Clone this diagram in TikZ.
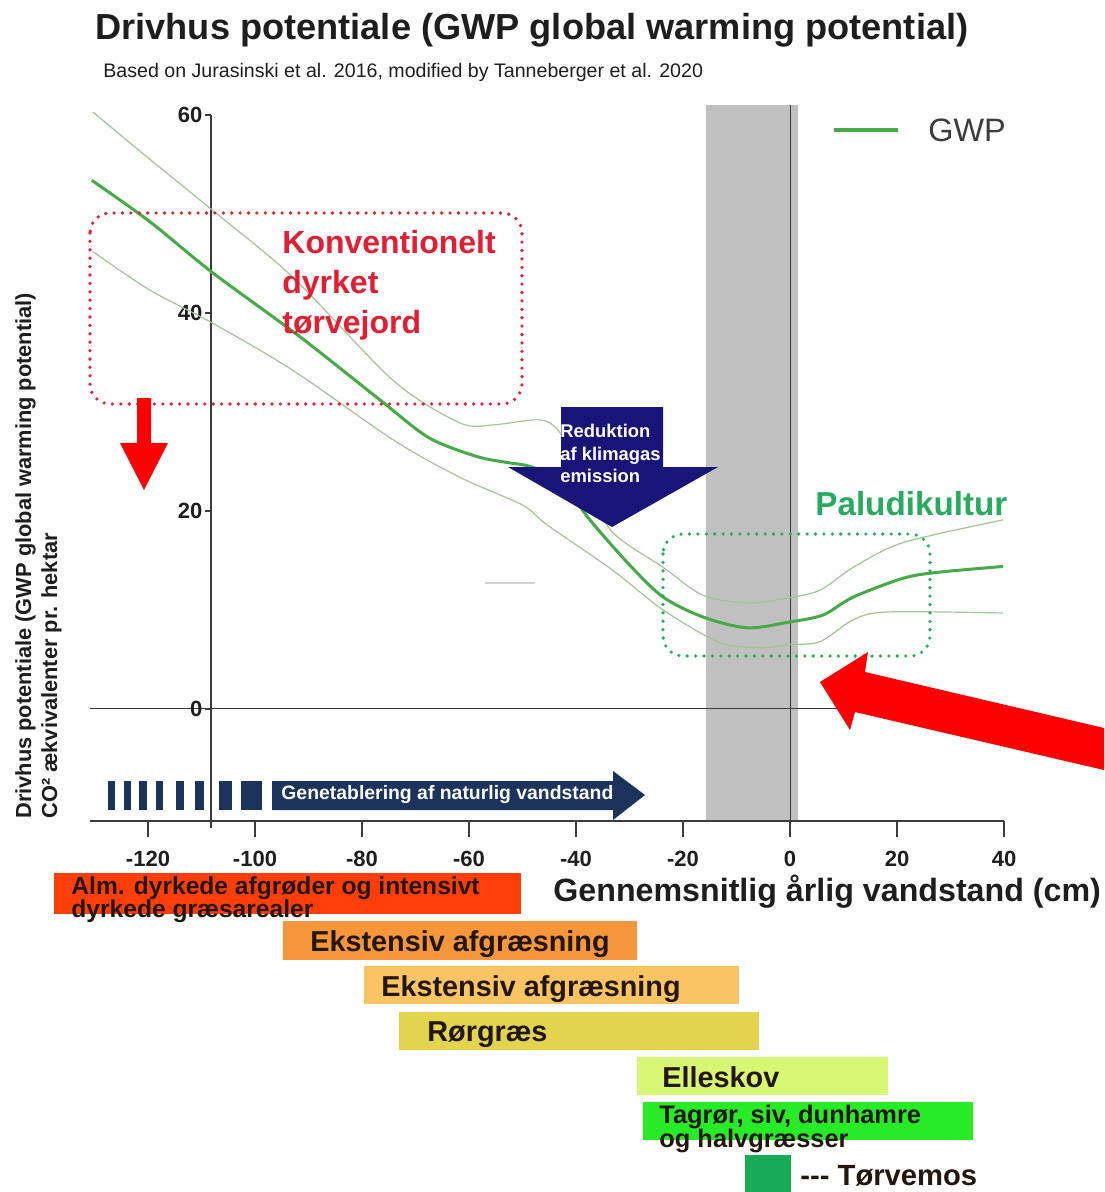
\documentclass[tikz,border=0pt]{standalone}
\usepackage{fontspec}
\setmainfont{Liberation Sans}
\usetikzlibrary{calc, positioning, shapes, arrows}

\definecolor{bandgray}{RGB}{192,192,192}
\definecolor{axisgray}{RGB}{60,60,60}
\definecolor{inkgray}{RGB}{30,30,30}
\definecolor{gwpgreen}{RGB}{70,170,70}
\definecolor{bandgreen}{RGB}{160,198,145}
\definecolor{konvred}{RGB}{226,30,50}
\definecolor{palugreen}{RGB}{40,170,95}
\definecolor{redukblue}{RGB}{25,20,120}
\definecolor{genetabblue}{RGB}{28,52,92}
\definecolor{barred}{RGB}{255,62,10}
\definecolor{barorange}{RGB}{246,150,58}
\definecolor{barpeach}{RGB}{250,196,98}
\definecolor{baryellow}{RGB}{226,212,78}
\definecolor{barlime}{RGB}{214,246,116}
\definecolor{barbright}{RGB}{40,235,40}
\definecolor{barmoss}{RGB}{25,170,85}
\definecolor{bartext}{RGB}{35,22,12}

\newcommand{\fsz}[2]{\fontsize{#1}{#2}\selectfont\lineskiplimit=-20pt}

\tikzset{
  lbl/.style={anchor=base west, inner sep=0pt},
  ticklbl/.style={inner sep=0pt, text=inkgray, font=\fsz{11pt}{13pt}\bfseries},
  bartxt/.style={inner sep=0pt, text=bartext, align=left},
  dotbox/.style={line width=1.8pt, line cap=round, dash pattern=on 0pt off 4.2pt, rounded corners=10pt},
  band/.style={bandgreen, line width=0.6pt},
}

\begin{document}
\begin{tikzpicture}[x=0.5pt, y=-0.5pt]
\useasboundingbox (0,0) rectangle (1104,1192);

\node[lbl, font=\fsz{18.1pt}{20pt}\bfseries, text=inkgray] (title) at (95,40) {Drivhus potentiale (GWP global warming potential)};
\node[lbl, font=\fsz{9.8pt}{11pt}, text=inkgray] (source) at (103,78) {Based on Jurasinski et al. 2016, modified by Tanneberger et al. 2020};

% plot
\fill[bandgray] (706,105) rectangle (798,821);
\draw[axisgray] (790,105) -- (790,821);
\draw[axisgray] (90,708) -- (1004,708);
\draw[axisgray, line width=0.9pt] (211,115) -- (211,828);
\draw[axisgray, line width=0.9pt] (90,821) -- (1004,821);
\draw[gray!35, line width=0.8pt] (485,583) -- (535,583);

\begin{scope}[shift={(790,709)}, x=2.675pt, y=4.95pt]
  \foreach \v [count=\i] in {-120,-100,...,40}
    \draw[axisgray, line width=0.9pt] (\v,-11.3) -- (\v,-12.9) node[below=7pt, ticklbl] (xt\i) {\v};
  \foreach \v [count=\i] in {0,20,40,60}
    \draw[axisgray, line width=0.9pt] (-108.2,\v) -- (-109.3,\v) node[left=1pt, ticklbl] (yt\i) {\v};

  \draw[band] plot[smooth] coordinates {(-130.3,60.3) (-119.6,55.5) (-108,50.4) (-92.9,43.6) (-74.2,33.2) (-61.7,28.9) (-55.5,28.7) (-48,29.2) (-44.9,28.9) (-42.1,27.2) (-37.4,22.1) (-33.1,17.8) (-23.7,14.3) (-16.3,11.5) (-8,10.7) (-0.6,11.2) (5.6,12) (11.8,14.3) (21.1,16.8) (39.8,19.1)};
  \draw[band] plot[smooth] coordinates {(-130.3,46.2) (-119.6,42.3) (-108,39) (-92.9,34.2) (-74.2,27.2) (-61.7,23.4) (-50,20.6) (-45.4,18.6) (-33.1,14) (-23.7,10) (-13.1,6.7) (-5.6,6.2) (0,6.5) (5.6,6.8) (11.8,9) (18.1,9.8) (39.8,9.7)};
  \draw[gwpgreen, line width=1.5pt] plot[smooth] coordinates {(-130.5,53.4) (-119.6,49.2) (-108,44.1) (-91.6,37.6) (-76.6,31.2) (-67.5,27.4) (-58.5,25.5) (-52.9,24.9) (-48.6,24.5) (-43,23.1) (-37.4,19.1) (-29.9,14.5) (-23.7,11.3) (-16.3,9.3) (-8,8.2) (0,8.8) (6.2,9.5) (11.8,11.3) (21.1,13.2) (27.5,13.8) (39.8,14.4)};
\end{scope}

% legend
\draw[gwpgreen, line width=2pt] (834,130) -- (898,130);
\node[lbl, font=\fsz{16.2pt}{18pt}, text=axisgray] (gwp) at (928,142) {GWP};

% konventionelt
\draw[konvred, dotbox] (90,213) rectangle (522,404);
\node[anchor=north west, inner sep=0pt, align=left, text=konvred, font=\fsz{16pt}{20pt}\bfseries] (konv) at (282,230) {Konventionelt\\dyrket\\tørvejord};
\fill[red] (137,398) -- (151,398) -- (151,443) -- (168,443) -- (144,490) -- (120,443) -- (137,443) -- cycle;

% reduktion
\fill[redukblue] (561,407) -- (663,407) -- (663,467) -- (718,467) -- (612,527) -- (508,467) -- (561,467) -- cycle;
\node[anchor=north west, inner sep=0pt, align=left, text=white, font=\fsz{9.2pt}{11.3pt}\bfseries] (reduk) at (560,424) {Reduktion\\af klimagas\\emission};

% paludikultur
\node[lbl, font=\fsz{16.6pt}{18pt}\bfseries, text=palugreen] (palu) at (815,515) {Paludikultur};
\draw[palugreen, dotbox] (663,534) rectangle (930,656);
\fill[red] (820,682) -- (868,652) -- (865,672) -- (1104,728) -- (1104,770) -- (855,712) -- (850,730) -- cycle;

% genetablering
\foreach \a/\b in {108/115, 124/131, 139/147, 156/163, 176/184, 195/204, 219/232, 241/262}
  \fill[genetabblue] (\a,781) rectangle (\b,810);
\fill[genetabblue] (272,781) -- (613,781) -- (613,771) -- (645,795) -- (613,820) -- (613,810) -- (272,810) -- cycle;
\node[lbl, font=\fsz{9.7pt}{11pt}\bfseries, text=white] (genetab) at (281,799) {Genetablering af naturlig vandstand};

% axis titles
\node[anchor=north west, rotate=90, inner sep=0pt, align=left, text=inkgray, font=\fsz{10.9pt}{13pt}\bfseries] (ylab) at (15,819) {Drivhus potentiale (GWP global warming potential)\\CO² ækvivalenter pr. hektar};
\node[lbl, font=\fsz{16.1pt}{18pt}\bfseries, text=inkgray] (xlab) at (553,901) {Gennemsnitlig årlig vandstand (cm)};

% vegetation bars
\fill[barred] (54,873) rectangle (521,914);
\node[bartxt, anchor=north west, font=\fsz{12.3pt}{11.5pt}\bfseries] (alm) at (71,876) {Alm. dyrkede afgrøder og intensivt\\dyrkede græsarealer};
\fill[barorange] (283,921) rectangle (637,960);
\node[bartxt, lbl, font=\fsz{14.4pt}{16pt}\bfseries] (eks1) at (310,951) {Ekstensiv afgræsning};
\fill[barpeach] (364,966) rectangle (739,1004);
\node[bartxt, lbl, font=\fsz{14.4pt}{16pt}\bfseries] (eks2) at (381,996) {Ekstensiv afgræsning};
\fill[baryellow] (399,1012) rectangle (759,1050);
\node[bartxt, lbl, font=\fsz{14.4pt}{16pt}\bfseries] (ror) at (427,1041) {Rørgræs};
\fill[barlime] (637,1057) rectangle (888,1095);
\node[bartxt, lbl, font=\fsz{14.4pt}{16pt}\bfseries] (elle) at (662,1087) {Elleskov};
\fill[barbright] (643,1102) rectangle (973,1140);
\node[bartxt, anchor=north west, font=\fsz{12.7pt}{11.8pt}\bfseries] (tag) at (659,1105) {Tagrør, siv, dunhamre\\og halvgræsser};
\fill[barmoss] (745,1155) rectangle (791,1192);
\node[bartxt, lbl, font=\fsz{14.6pt}{16pt}\bfseries] (torv) at (800,1185) {-{}-{}- Tørvemos};
\end{tikzpicture}
\end{document}
